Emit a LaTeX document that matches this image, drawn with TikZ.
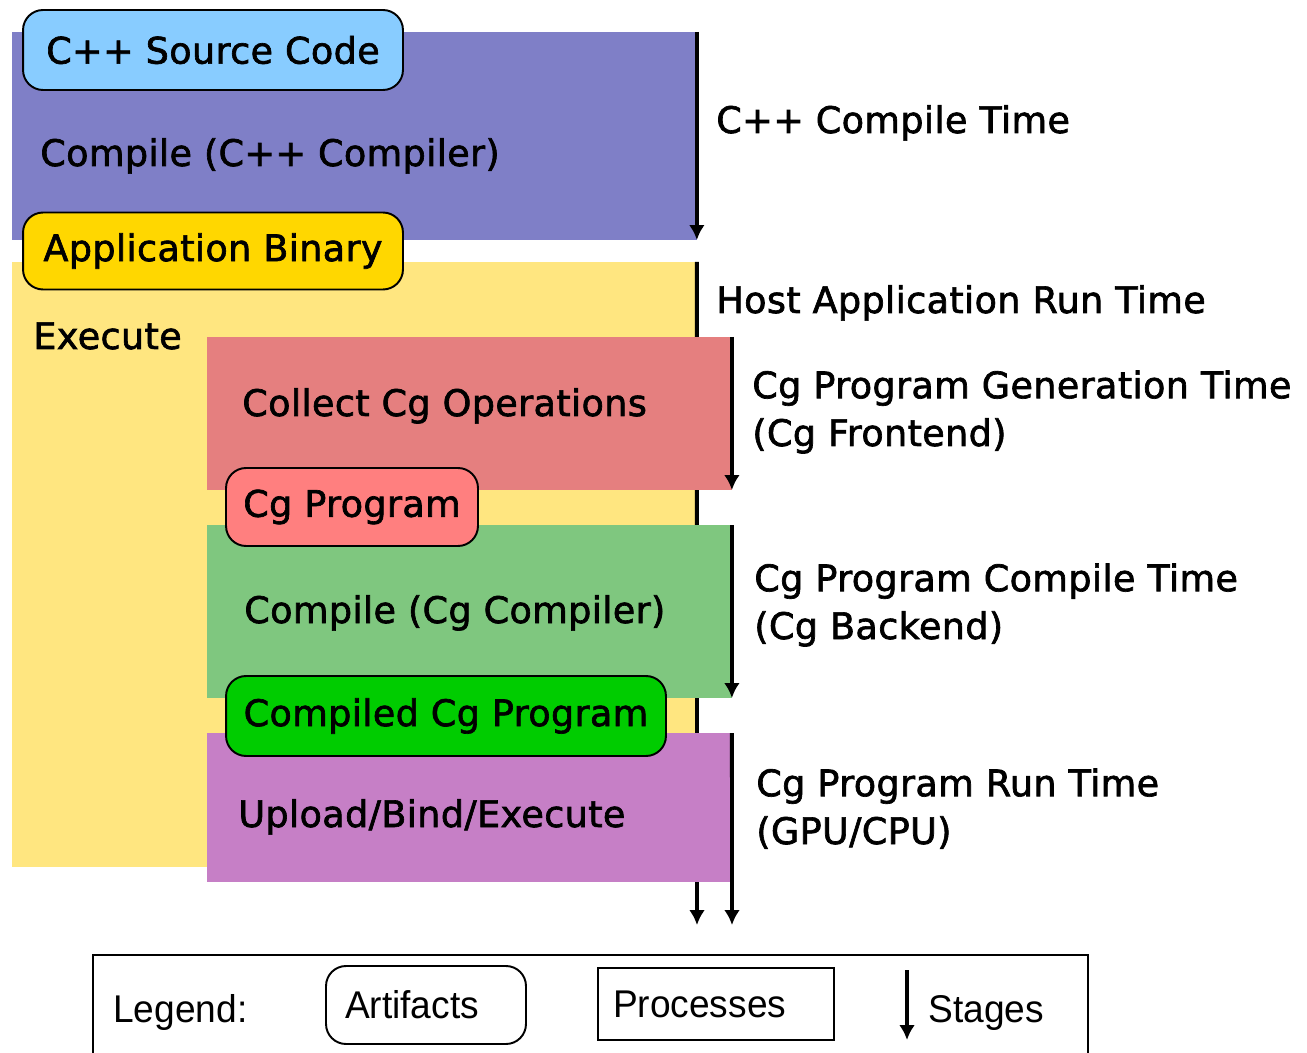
\documentclass[tikz,border=0pt]{standalone}
\usepackage{fontspec}
\setmainfont{DejaVu Sans}[FakeBold=1.8,LetterSpace=1.0]
\newfontfamily\legendfont{Liberation Sans}[FakeStretch=0.96]
\usetikzlibrary{arrows.meta}

\definecolor{cppcol}{RGB}{127,127,199}
\definecolor{srccol}{RGB}{136,204,255}
\definecolor{bincol}{RGB}{255,215,0}
\definecolor{hostcol}{RGB}{255,230,128}
\definecolor{gencol}{RGB}{229,127,127}
\definecolor{cgprogcol}{RGB}{255,127,127}
\definecolor{cgcompcol}{RGB}{127,199,127}
\definecolor{compiledcol}{RGB}{0,204,0}
\definecolor{runcol}{RGB}{198,127,198}

\begin{document}
\begin{tikzpicture}[x=0.02cm,y=-0.02cm,>={Latex[length=8.5pt,width=9pt]},
  font=\fontsize{20.8}{27.2}\selectfont,
  process/.style={anchor=north west,inner sep=0pt,outer sep=0pt},
  artifact/.style={draw,line width=1.1pt,rounded corners=0.4cm,inner sep=0pt},
  label/.style={anchor=base west,inner sep=0pt},
  stage/.style={line width=2.2pt,->}]
 \useasboundingbox (0,0) rectangle (1307,1053);
 \clip (0,0) rectangle (1307,1053);

 % process areas
 \node[process,fill=cppcol,minimum width=13.7cm,minimum height=4.16cm] (cppbox) at (12,32) {};
 \node[process,fill=hostcol,minimum width=13.7cm,minimum height=12.1cm] (hostbox) at (12,262) {};
 \coordinate (hostend) at (697,925);
 \draw[stage] (hostbox.north east) -- (hostend);
 \node[process,fill=gencol,minimum width=10.5cm,minimum height=3.06cm] (genbox) at (207,337) {};
 \node[process,fill=cgcompcol,minimum width=10.5cm,minimum height=3.46cm] (cgcompbox) at (207,525) {};
 \node[process,fill=runcol,minimum width=10.5cm,minimum height=2.98cm] (runbox) at (207,733) {};
 \coordinate (runend) at (732,925);

 \node[label] (cppproc) at (40,166) {Compile (C++ Compiler)};
 \node[label] (hostproc) at (33,349) {Execute};
 \node[label] (genproc) at (242,416) {Collect Cg Operations};
 \node[label] (cgcompproc) at (244,623) {Compile (Cg Compiler)};
 \node[label] (runproc) at (238,827) {Upload/Bind/Execute};

 % stages
 \draw[stage] (cppbox.north east) -- (cppbox.south east);
 \draw[stage] (genbox.north east) -- (genbox.south east);
 \draw[stage] (cgcompbox.north east) -- (cgcompbox.south east);
 \draw[stage] (runbox.north east) -- (runend);

 \node[label] (cppstage) at (716,133) {C++ Compile Time};
 \node[label] (hoststage) at (716,313) {Host Application Run Time};
 \node[label,align=left] (genstage) at (752,446) {Cg Program Generation Time\\(Cg Frontend)};
 \node[label,align=left] (cgcompstage) at (754,639) {Cg Program Compile Time\\(Cg Backend)};
 \node[label,align=left] (runstage) at (756,844) {Cg Program Run Time\\(GPU/CPU)};

 % artifacts
 \node[artifact,fill=srccol,minimum width=7.6cm,minimum height=1.6cm] (source) at (213,50) {C++ Source Code};
 \node[artifact,fill=bincol,minimum width=7.6cm,minimum height=1.54cm] (binary) at (213,251) {Application Binary};
 \node[artifact,fill=cgprogcol,minimum width=5.04cm,minimum height=1.56cm] (cgprog) at (352,507) {Cg Program};
 \node[artifact,fill=compiledcol,minimum width=8.8cm,minimum height=1.6cm] (compiled) at (446,716) {Compiled Cg Program};

 % legend
 \begin{scope}[font=\legendfont\fontsize{22}{26}\selectfont]
  \draw[line width=1.2pt] (93,1070) -- (93,955) -- (1088,955) -- (1088,1070);
  \node[label] (legtitle) at (113,1022) {Legend:};
  \node[artifact,inner xsep=0.38cm,text width=3.24cm,align=left,minimum height=1.56cm] (legart) at (426,1005) {Artifacts};
  \node[draw,line width=1.2pt,inner xsep=0.3cm,text width=4.12cm,align=left,minimum height=1.44cm] (legproc) at (716,1004) {Processes};
  \coordinate (legtop) at (907,970);
  \coordinate (legbot) at (907,1040);
  \draw[line width=2pt,->] (legtop) -- (legbot);
  \node[label] (legstage) at (928,1022) {Stages};
 \end{scope}
\end{tikzpicture}
\end{document}
